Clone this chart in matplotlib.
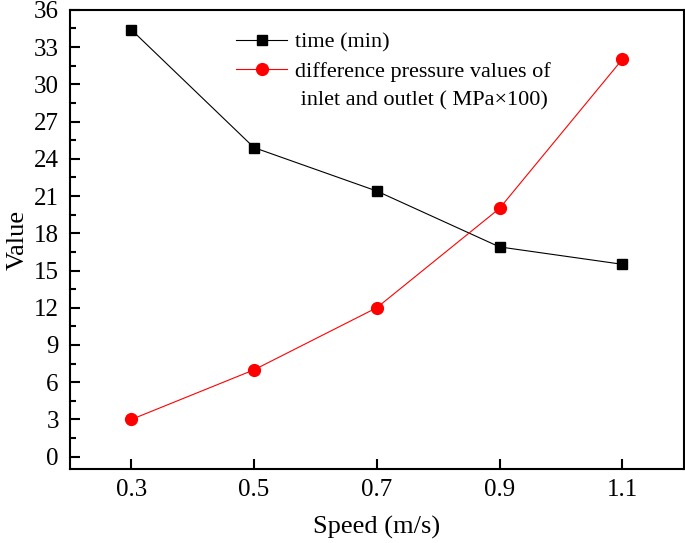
import matplotlib
matplotlib.use("Agg")
import matplotlib.pyplot as plt
from matplotlib.ticker import MultipleLocator

plt.rcParams['font.family'] = ['Liberation Serif', 'DejaVu Serif']

### data
speed = [0.3, 0.5, 0.7, 0.9, 1.1]
time_min = [34.4, 24.9, 21.4, 16.9, 15.5]
pressure = [3, 7, 12, 20, 32]
xtick_labels = ["0.3", "0.5", "0.7", "0.9", "1.1"]

fig = plt.figure(figsize=(6.85, 5.43), dpi=100)
ax = fig.add_axes([0.102, 0.136, 0.896, 0.846])

ax.plot(speed, time_min, color="black", lw=0.8, marker="s", markersize=7,
        label="time (min)")
ax.plot(speed, pressure, color="red", lw=0.8, marker="o", markersize=8.5,
        label="difference pressure values of")
# second line of the red label, handle kept invisible
ax.plot([], [], color="none", label=" inlet and outlet ( MPa\u00d7100)")

ax.set_xlim(0.2, 1.2)
ax.set_ylim(-1, 36)
ax.set_xticks(speed)
ax.set_xticklabels(xtick_labels)
ax.yaxis.set_major_locator(MultipleLocator(3))
ax.yaxis.set_minor_locator(MultipleLocator(1.5))
ax.tick_params(axis="both", which="major", direction="in", length=7, width=1.5,
               labelsize=18, pad=7)
ax.tick_params(axis="y", which="minor", direction="in", length=4, width=1.5)
ax.tick_params(axis="y", which="major", pad=8)
for s in ax.spines.values():
    s.set_linewidth(1.5)

ax.set_xlabel("Speed (m/s)", fontsize=19, labelpad=11)
ax.set_ylabel("Value", fontsize=19, labelpad=4)

ax.legend(loc="upper left", bbox_to_anchor=(0.238, 0.995), frameon=False,
          fontsize=16, handlelength=2.3, handletextpad=0.35, labelspacing=0.38)

fig.savefig("out.png", dpi=100)
